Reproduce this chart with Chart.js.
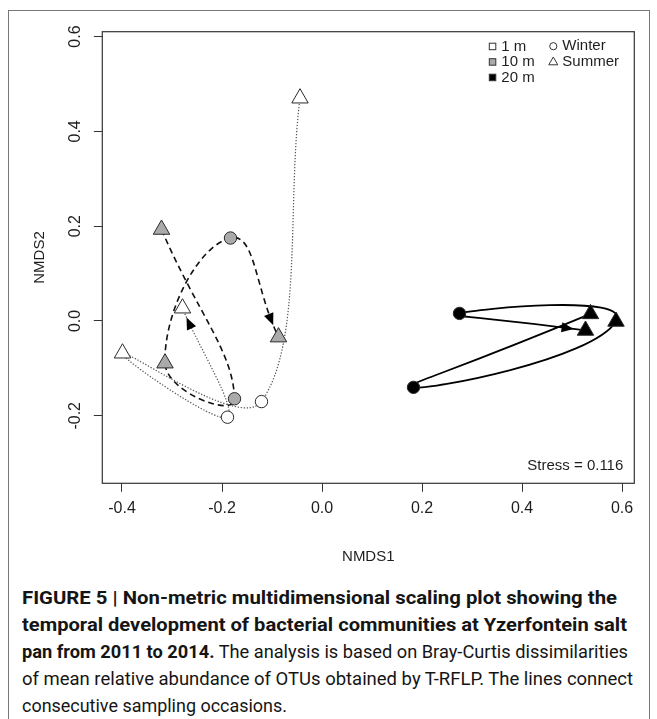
<!DOCTYPE html>
<html><head><meta charset="utf-8">
<script src="https://cdn.jsdelivr.net/npm/chart.js@4.4.1/dist/chart.umd.min.js"></script>
<style>
html,body{margin:0;padding:0;background:#fff;}
body{width:657px;height:719px;overflow:hidden;position:relative;font-family:"Liberation Sans",Arial,sans-serif;}
#frame{position:absolute;left:8px;top:10px;width:642px;height:760px;border:1px solid #777;box-sizing:border-box;}
#wrap{position:absolute;left:0;top:0;width:657px;height:570px;}
#cap{position:absolute;left:22px;top:584px;font-size:18px;line-height:27px;color:#151515;font-family:"Liberation Sans Narrow","Roboto","Liberation Sans",sans-serif;}
#cap .ln{white-space:nowrap;transform-origin:0 50%;width:max-content;}
</style></head><body>
<div id="frame"></div>
<div id="wrap"><canvas id="c" width="657" height="570"></canvas></div>
<div id="cap">
<div class="ln" data-w="595"><b>FIGURE 5 | Non-metric multidimensional scaling plot showing the</b></div>
<div class="ln" data-w="605"><b>temporal development of bacterial communities at Yzerfontein salt</b></div>
<div class="ln" data-w="606"><b>pan from 2011 to 2014.</b> The analysis is based on Bray-Curtis dissimilarities</div>
<div class="ln" data-w="611">of mean relative abundance of OTUs obtained by T-RFLP. The lines connect</div>
<div class="ln" data-w="265">consecutive sampling occasions.</div>
</div>
<script>
// ---- data ----
const seasons = ['Summer', 'Winter', 'Summer', 'Winter', 'Summer'];
const depths = ['1 m', '10 m', '20 m'];
const x1m = [-0.044, -0.121, -0.399, -0.189, -0.279];
const y1m = [0.470, -0.170, -0.068, -0.203, 0.027];
const x10m = [-0.321, -0.175, -0.314, -0.183, -0.087];
const y10m = [0.193, -0.164, -0.089, 0.175, -0.034];
const x20m = [0.537, 0.183, 0.588, 0.275, 0.527];
const y20m = [0.015, -0.140, -0.001, 0.016, -0.020];
const xTicks = [-0.4, -0.2, 0.0, 0.2, 0.4, 0.6];
const yTicks = [-0.2, 0.0, 0.2, 0.4, 0.6];
const seasonNames = ['Winter', 'Summer'];
const stressLabel = 'Stress = 0.116';
const xTitle = 'NMDS1';
const yTitle = 'NMDS2';

// ---- styles ----
const FONT = '"Liberation Sans", Arial, sans-serif';
const TXT = '#1e1e1e';
const fills = ['#ffffff', '#aaaaaa', '#000000'];
const lineColors = ['#555555', '#111111', '#000000'];
const lineWidths = [1.2, 1.6, 1.8];
const lineDashes = [[1.3, 1.7], [6, 4], []];
const tensions = [0.35, 0.5, 0.9];
const arrowGaps = [10, 13, 12];
const series = [[x1m, y1m], [x10m, y10m], [x20m, y20m]];

const toPts = (xs, ys) => xs.map((x, i) => ({x: x, y: ys[i]}));
const styleOf = s => s === 'Winter' ? 'circle' : 'triangle';
const radiusOf = s => s === 'Winter' ? 6.2 : 9.5;

const datasets = [];
series.forEach((s, d) => {
  datasets.push({
    label: depths[d] + ' path', data: toPts(s[0], s[1]), showLine: true,
    borderColor: lineColors[d], borderWidth: lineWidths[d], borderDash: lineDashes[d],
    tension: tensions[d], pointRadius: 0, pointHoverRadius: 0, fill: false, order: 2,
    arrow: true, arrowGap: arrowGaps[d]
  });
});
series.forEach((s, d) => {
  datasets.push({
    label: depths[d], data: toPts(s[0], s[1]), showLine: false,
    pointStyle: seasons.map(styleOf), pointRadius: seasons.map(radiusOf),
    pointHoverRadius: seasons.map(radiusOf),
    backgroundColor: fills[d], borderColor: '#2a2a2a', borderWidth: 1, order: 0
  });
});

function bez(p, t) {
  const u = 1 - t;
  return {
    x: u*u*u*p[0].x + 3*u*u*t*p[1].x + 3*u*t*t*p[2].x + t*t*t*p[3].x,
    y: u*u*u*p[0].y + 3*u*u*t*p[1].y + 3*u*t*t*p[2].y + t*t*t*p[3].y
  };
}
function bezD(p, t) {
  const u = 1 - t;
  return {
    x: 3*u*u*(p[1].x-p[0].x) + 6*u*t*(p[2].x-p[1].x) + 3*t*t*(p[3].x-p[2].x),
    y: 3*u*u*(p[1].y-p[0].y) + 6*u*t*(p[2].y-p[1].y) + 3*t*t*(p[3].y-p[2].y)
  };
}

const arrowPlugin = {
  id: 'arrows',
  afterDatasetDraw(chart, args) {
    const ds = chart.data.datasets[args.index];
    if (!ds.arrow) return;
    const pts = args.meta.data; const n = pts.length;
    const a = pts[n-2], b = pts[n-1];
    const P = [{x:a.x,y:a.y},
      {x: a.cp2x !== undefined ? a.cp2x : a.x, y: a.cp2y !== undefined ? a.cp2y : a.y},
      {x: b.cp1x !== undefined ? b.cp1x : b.x, y: b.cp1y !== undefined ? b.cp1y : b.y},
      {x:b.x,y:b.y}];
    let t = 1;
    for (let k = 2000; k >= 0; k--) {
      const q = bez(P, k/2000);
      if (Math.hypot(q.x-P[3].x, q.y-P[3].y) >= ds.arrowGap) { t = k/2000; break; }
    }
    const tip = bez(P, t); const dv = bezD(P, t);
    const len = Math.hypot(dv.x, dv.y) || 1;
    const ux = dv.x/len, uy = dv.y/len;
    const L = 12, W = 5;
    const bx = tip.x - ux*L, by = tip.y - uy*L;
    const ctx = chart.ctx;
    ctx.save();
    ctx.fillStyle = '#000';
    ctx.beginPath();
    ctx.moveTo(tip.x, tip.y);
    ctx.lineTo(bx - uy*W, by + ux*W);
    ctx.lineTo(bx + uy*W, by - ux*W);
    ctx.closePath();
    ctx.fill();
    ctx.restore();
  }
};

const decorPlugin = {
  id: 'decor',
  beforeDatasetsDraw(chart) {
    const {ctx, chartArea: ca} = chart;
    ctx.save();
    ctx.strokeStyle = '#333'; ctx.lineWidth = 1.2;
    ctx.strokeRect(ca.left, ca.top, ca.right - ca.left, ca.bottom - ca.top);
    ctx.restore();
  },
  afterDraw(chart) {
    const {ctx, chartArea: ca} = chart;
    const ys = chart.scales.y;
    ctx.save();
    ctx.fillStyle = TXT;
    ctx.font = '16px ' + FONT;
    ctx.textAlign = 'center'; ctx.textBaseline = 'middle';
    yTicks.forEach(v => {
      const py = ys.getPixelForValue(v);
      ctx.save();
      ctx.translate(ca.left - 27, py);
      ctx.rotate(-Math.PI/2);
      ctx.fillText(v.toFixed(1), 0, 0);
      ctx.restore();
    });
    ctx.font = '15px ' + FONT;
    // stress
    ctx.textAlign = 'right';
    ctx.fillText(stressLabel, ca.right - 11, ca.bottom - 17);
    // legend
    const lx = ca.right - 142, ly = ca.top + 14.5, dy = 15.5;
    ctx.textAlign = 'left';
    depths.forEach((d, i) => {
      const cy = ly + i*dy;
      ctx.fillStyle = fills[i]; ctx.strokeStyle = '#333'; ctx.lineWidth = 1;
      ctx.fillRect(lx - 3, cy - 3, 6.5, 6.5);
      ctx.strokeRect(lx - 3, cy - 3, 6.5, 6.5);
      ctx.fillStyle = TXT;
      ctx.fillText(d, lx + 9, cy + 0.5);
    });
    const sx = lx + 61;
    seasonNames.forEach((s, i) => {
      const cy = ly + i*dy;
      ctx.strokeStyle = '#333'; ctx.lineWidth = 1;
      ctx.beginPath();
      if (styleOf(s) === 'circle') {
        ctx.arc(sx, cy, 3.6, 0, Math.PI*2);
      } else {
        const r = 5.2;
        ctx.moveTo(sx, cy - r + 0.5);
        ctx.lineTo(sx + r*0.866, cy + r/2 + 0.5);
        ctx.lineTo(sx - r*0.866, cy + r/2 + 0.5);
        ctx.closePath();
      }
      ctx.stroke();
      ctx.fillStyle = TXT;
      ctx.fillText(s, sx + 9, cy);
    });
    ctx.restore();
  }
};

Chart.defaults.font.family = FONT;
new Chart(document.getElementById('c'), {
  type: 'scatter',
  data: {datasets: datasets},
  options: {
    responsive: false, animation: false, devicePixelRatio: 1,
    layout: {padding: {left: 20, right: 22.7, top: 31.7, bottom: 0}},
    plugins: {legend: {display: false}, tooltip: {enabled: false}},
    elements: {line: {capBezierPoints: false}},
    scales: {
      x: {
        type: 'linear', min: -0.4394, max: 0.6246,
        afterBuildTicks: s => { s.ticks = xTicks.map(v => ({value: v})); },
        grid: {display: true, drawOnChartArea: false, drawTicks: true, tickLength: 8.5, color: '#333', lineWidth: 1},
        border: {display: false},
        ticks: {color: TXT, font: {size: 16}, padding: 7.4, maxRotation: 0, autoSkip: false,
                callback: v => Number(v).toFixed(1)},
        title: {display: true, text: xTitle, color: TXT, font: {size: 15}, padding: {top: 22.2, bottom: 4}}
      },
      y: {
        type: 'linear', min: -0.3424, max: 0.6103,
        afterBuildTicks: s => { s.ticks = yTicks.map(v => ({value: v})); },
        grid: {display: true, drawOnChartArea: false, drawTicks: true, tickLength: 8.5, color: '#333', lineWidth: 1},
        border: {display: false},
        ticks: {display: false},
        title: {display: true, text: yTitle, color: TXT, font: {size: 15}, padding: {top: 11, bottom: 44.8}}
      }
    }
  },
  plugins: [arrowPlugin, decorPlugin]
});

// fit caption lines
function fitCaption() {
  document.querySelectorAll('#cap .ln').forEach(el => {
    el.style.transform = 'none';
    const w = el.getBoundingClientRect().width;
    const target = parseFloat(el.dataset.w);
    if (w > 0) el.style.transform = 'scaleX(' + (target / w) + ')';
  });
}
fitCaption();
if (document.fonts && document.fonts.ready) document.fonts.ready.then(fitCaption);
</script>
</body></html>
